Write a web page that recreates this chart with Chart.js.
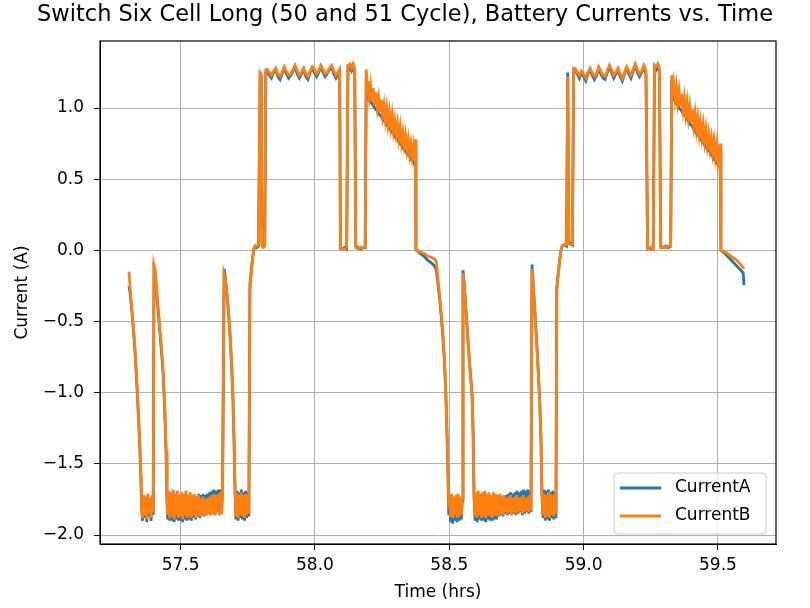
<!DOCTYPE html>
<html>
<head>
<meta charset="utf-8">
<script src="https://cdn.jsdelivr.net/npm/chart.js@4.4.0/dist/chart.umd.min.js"></script>
<style>
  html, body { margin: 0; padding: 0; background: #fff; }
  #wrap { width: 810px; height: 608px; }
</style>
</head>
<body>
<div id="wrap"><canvas id="grafik"></canvas></div>
<script>
// time (hrs), one row per piece of the trace
const hours = [
  57.308, 57.312, 57.316, 57.320, 57.324, 57.328, 57.332, 57.336, 57.340, 57.344, 57.348, 57.352, 57.355,
  57.358, 57.362, 57.366, 57.370, 57.374, 57.378, 57.382, 57.386, 57.390, 57.394, 57.398,
  57.401, 57.405, 57.412, 57.420, 57.428, 57.435, 57.441, 57.446, 57.449,
  57.452, 57.456, 57.460, 57.464, 57.468, 57.472, 57.476, 57.480, 57.484, 57.488,
  57.492, 57.496, 57.500, 57.504, 57.508, 57.512, 57.516, 57.520, 57.524, 57.528,
  57.532, 57.536, 57.540, 57.544, 57.548, 57.552, 57.556, 57.560, 57.564, 57.568,
  57.572, 57.576, 57.580, 57.584, 57.588, 57.592, 57.596, 57.600, 57.604, 57.608,
  57.612, 57.616, 57.620, 57.624, 57.628, 57.632, 57.636, 57.640, 57.644, 57.648,
  57.652, 57.656,
  57.662, 57.666, 57.672, 57.678, 57.684, 57.690, 57.695, 57.699, 57.703,
  57.706, 57.710, 57.714, 57.718, 57.722, 57.726, 57.730, 57.734, 57.738, 57.742, 57.746, 57.750, 57.754,
  57.758, 57.763, 57.768, 57.773, 57.778, 57.784, 57.790, 57.796, 57.800, 57.803, 57.808, 57.813, 57.817,
  57.822, 57.830, 57.838, 57.846, 57.854, 57.862, 57.870, 57.878, 57.886, 57.894,
  57.902, 57.910, 57.918, 57.926, 57.934, 57.942, 57.950, 57.958, 57.966, 57.974,
  57.982, 57.990, 57.998, 58.006, 58.014, 58.022, 58.030, 58.038, 58.046, 58.054,
  58.062, 58.070, 58.078, 58.086, 58.092,
  58.095, 58.102, 58.110, 58.118, 58.123, 58.130, 58.136, 58.142, 58.148, 58.152, 58.160, 58.170, 58.180, 58.187, 58.191, 58.194,
  58.197, 58.202, 58.207, 58.212, 58.217, 58.222, 58.227, 58.232, 58.237, 58.242,
  58.247, 58.252, 58.257, 58.262, 58.267, 58.272, 58.277, 58.282, 58.287, 58.292,
  58.297, 58.302, 58.307, 58.312, 58.317, 58.322, 58.327, 58.332, 58.337, 58.342,
  58.347, 58.352, 58.357, 58.362, 58.367, 58.371,
  58.373, 58.376, 58.390, 58.405, 58.420, 58.435, 58.445, 58.452, 58.458, 58.464, 58.470, 58.476, 58.482, 58.487, 58.491, 58.495, 58.498,
  58.501, 58.505, 58.509, 58.513, 58.517, 58.521, 58.525, 58.529, 58.533, 58.537, 58.541, 58.545, 58.548,
  58.551, 58.555, 58.560, 58.565, 58.570, 58.575, 58.580, 58.585, 58.589, 58.592,
  58.596, 58.600, 58.604, 58.608, 58.612, 58.616, 58.620, 58.624, 58.628, 58.632,
  58.636, 58.640, 58.644, 58.648, 58.652, 58.656, 58.660, 58.664, 58.668, 58.672,
  58.676, 58.680, 58.684, 58.688, 58.692, 58.696, 58.700, 58.704, 58.708, 58.712,
  58.716, 58.720, 58.724, 58.728, 58.732, 58.736, 58.740, 58.744, 58.748, 58.752,
  58.756, 58.760, 58.764, 58.768, 58.772, 58.776, 58.780, 58.784, 58.788, 58.792,
  58.796, 58.800, 58.804,
  58.808, 58.812, 58.817, 58.822, 58.827, 58.832, 58.837, 58.841, 58.845,
  58.849, 58.853, 58.857, 58.861, 58.865, 58.869, 58.873, 58.877, 58.881, 58.885, 58.889, 58.893, 58.897,
  58.900, 58.905, 58.910, 58.915, 58.920, 58.928, 58.936, 58.941, 58.945, 58.952, 58.958, 58.963,
  58.968, 58.976, 58.984, 58.992, 59.000, 59.008, 59.016, 59.024, 59.032, 59.040,
  59.048, 59.056, 59.064, 59.072, 59.080, 59.088, 59.096, 59.104, 59.112, 59.120,
  59.128, 59.136, 59.144, 59.152, 59.160, 59.168, 59.176, 59.184, 59.192, 59.200,
  59.208, 59.216, 59.224, 59.232,
  59.238, 59.245, 59.252, 59.259, 59.264, 59.270, 59.276, 59.282, 59.287, 59.295, 59.305, 59.315, 59.324, 59.328, 59.332,
  59.335, 59.340, 59.345, 59.350, 59.355, 59.360, 59.365, 59.370, 59.375, 59.380,
  59.385, 59.390, 59.395, 59.400, 59.405, 59.410, 59.415, 59.420, 59.425, 59.430,
  59.435, 59.440, 59.445, 59.450, 59.455, 59.460, 59.465, 59.470, 59.475, 59.480,
  59.485, 59.490, 59.495, 59.500, 59.505,
  59.508, 59.511, 59.525, 59.540, 59.555, 59.570, 59.585, 59.594, 59.597
];

const currentA = [
  -0.25, -0.30, -0.38, -0.46, -0.55, -0.65, -0.77, -0.90, -1.05, -1.20, -1.38, -1.58, -1.80,
  -1.90, -1.74, -1.88, -1.75, -1.91, -1.73, -1.87, -1.76, -1.90, -1.74, -1.86,
  -0.13, -0.15, -0.33, -0.51, -0.69, -0.87, -1.13, -1.43, -1.75,
  -1.89, -1.71, -1.90, -1.72, -1.90, -1.70, -1.91, -1.73, -1.89, -1.71,
  -1.90, -1.74, -1.90, -1.72, -1.91, -1.73, -1.89, -1.71, -1.90, -1.74,
  -1.89, -1.72, -1.90, -1.73, -1.88, -1.72, -1.89, -1.73, -1.87, -1.71,
  -1.88, -1.72, -1.86, -1.71, -1.87, -1.72, -1.86, -1.71, -1.85, -1.70,
  -1.86, -1.69, -1.85, -1.68, -1.86, -1.69, -1.84, -1.68, -1.86, -1.68,
  -1.85, -1.69,
  -0.13, -0.18, -0.30, -0.43, -0.60, -0.82, -1.05, -1.35, -1.72,
  -1.89, -1.69, -1.90, -1.70, -1.88, -1.68, -1.89, -1.70, -1.90, -1.69, -1.88, -1.70, -1.87,
  -0.24, -0.14, -0.05, 0.01, 0.03, 0.02, 0.03, 1.23, 1.22, 0.04, 0.03, 0.04, 1.25,
  1.26, 1.23, 1.21, 1.25, 1.27, 1.22, 1.20, 1.24, 1.28, 1.24,
  1.21, 1.23, 1.26, 1.29, 1.24, 1.21, 1.24, 1.27, 1.22, 1.20,
  1.25, 1.28, 1.25, 1.22, 1.25, 1.29, 1.25, 1.22, 1.24, 1.27,
  1.29, 1.24, 1.21, 1.24, 1.26,
  0.02, 0.01, 0.02, 0.01, 1.29, 1.28, 1.26, 1.29, 1.26, 0.03, 0.02, 0.01, 0.02, 0.02, 1.23, 1.08,
  1.07, 1.06, 1.05, 1.03, 1.02, 1.00, 0.99, 0.98, 0.96, 0.95,
  0.94, 0.92, 0.91, 0.90, 0.88, 0.87, 0.86, 0.84, 0.83, 0.82,
  0.80, 0.79, 0.78, 0.76, 0.75, 0.74, 0.72, 0.71, 0.70, 0.68,
  0.67, 0.66, 0.64, 0.63, 0.62, 0.60,
  0.74, 0.01, -0.02, -0.04, -0.07, -0.09, -0.11, -0.14, -0.24, -0.34, -0.46, -0.60, -0.78, -1.00, -1.25, -1.55, -1.86,
  -1.74, -1.91, -1.73, -1.92, -1.75, -1.90, -1.74, -1.91, -1.73, -1.90, -1.75, -1.89, -1.76,
  -0.14, -0.22, -0.36, -0.50, -0.64, -0.78, -0.90, -1.02, -1.30, -1.72,
  -1.90, -1.72, -1.91, -1.71, -1.89, -1.73, -1.90, -1.72, -1.90, -1.71,
  -1.91, -1.73, -1.89, -1.72, -1.90, -1.74, -1.90, -1.72, -1.89, -1.73,
  -1.89, -1.73, -1.87, -1.72, -1.86, -1.73, -1.87, -1.72, -1.85, -1.72,
  -1.86, -1.71, -1.85, -1.70, -1.86, -1.71, -1.85, -1.70, -1.86, -1.69,
  -1.85, -1.70, -1.84, -1.69, -1.86, -1.68, -1.85, -1.69, -1.84, -1.68,
  -1.85, -1.69, -1.84,
  -0.10, -0.22, -0.38, -0.54, -0.70, -0.88, -1.08, -1.30, -1.72,
  -1.88, -1.68, -1.90, -1.69, -1.89, -1.68, -1.90, -1.70, -1.88, -1.69, -1.89, -1.70, -1.88,
  -0.26, -0.17, -0.08, -0.01, 0.03, 0.04, 0.03, 1.25, 0.05, 0.05, 0.04, 1.27,
  1.27, 1.24, 1.21, 1.25, 1.22, 1.19, 1.24, 1.27, 1.23, 1.20,
  1.23, 1.28, 1.24, 1.21, 1.20, 1.25, 1.29, 1.25, 1.21, 1.24,
  1.27, 1.22, 1.19, 1.24, 1.28, 1.24, 1.21, 1.26, 1.30, 1.25,
  1.22, 1.25, 1.29, 1.24,
  0.02, 0.02, 0.01, 0.02, 1.29, 1.27, 1.30, 1.26, 0.03, 0.02, 0.03, 0.02, 0.03, 1.20, 1.06,
  1.06, 1.05, 1.03, 1.02, 1.00, 0.99, 0.98, 0.96, 0.95, 0.94,
  0.92, 0.91, 0.89, 0.88, 0.87, 0.85, 0.84, 0.82, 0.81, 0.80,
  0.78, 0.77, 0.76, 0.74, 0.73, 0.71, 0.70, 0.69, 0.67, 0.66,
  0.64, 0.63, 0.62, 0.60, 0.59,
  0.72, 0.00, -0.02, -0.05, -0.08, -0.11, -0.14, -0.16, -0.245
];

const currentB = [
  -0.15, -0.26, -0.35, -0.44, -0.53, -0.63, -0.75, -0.88, -1.03, -1.19, -1.37, -1.57, -1.78,
  -1.88, -1.72, -1.86, -1.73, -1.89, -1.71, -1.85, -1.74, -1.88, -1.72, -1.84,
  -0.10, -0.13, -0.30, -0.48, -0.66, -0.84, -1.10, -1.40, -1.72,
  -1.86, -1.69, -1.88, -1.70, -1.87, -1.68, -1.89, -1.71, -1.86, -1.69,
  -1.88, -1.72, -1.87, -1.70, -1.89, -1.71, -1.86, -1.69, -1.88, -1.72,
  -1.87, -1.70, -1.88, -1.72, -1.86, -1.71, -1.88, -1.73, -1.86, -1.72,
  -1.87, -1.74, -1.85, -1.73, -1.87, -1.75, -1.86, -1.74, -1.85, -1.73,
  -1.86, -1.72, -1.85, -1.71, -1.86, -1.72, -1.84, -1.71, -1.86, -1.70,
  -1.85, -1.72,
  -0.17, -0.20, -0.29, -0.42, -0.59, -0.80, -1.03, -1.33, -1.70,
  -1.87, -1.71, -1.88, -1.72, -1.86, -1.70, -1.87, -1.72, -1.88, -1.71, -1.86, -1.72, -1.85,
  -0.27, -0.16, -0.06, 0.02, 0.03, 0.03, 0.04, 1.25, 1.24, 0.03, 0.02, 0.03, 1.27,
  1.27, 1.25, 1.23, 1.26, 1.28, 1.24, 1.22, 1.25, 1.29, 1.26,
  1.23, 1.24, 1.27, 1.30, 1.26, 1.23, 1.25, 1.28, 1.24, 1.22,
  1.26, 1.29, 1.27, 1.24, 1.26, 1.30, 1.27, 1.24, 1.25, 1.28,
  1.30, 1.26, 1.23, 1.25, 1.27,
  0.01, 0.01, 0.01, 0.02, 1.30, 1.31, 1.28, 1.31, 1.28, 0.02, 0.01, 0.02, 0.02, 0.03, 1.27, 1.17,
  1.19, 1.08, 1.16, 1.05, 1.14, 1.02, 1.11, 1.00, 1.07, 0.97,
  1.06, 0.95, 1.02, 0.92, 1.00, 0.89, 0.97, 0.87, 0.95, 0.84,
  0.91, 0.82, 0.89, 0.79, 0.87, 0.76, 0.83, 0.74, 0.81, 0.71,
  0.78, 0.68, 0.75, 0.66, 0.73, 0.63,
  0.78, 0.00, -0.01, -0.02, -0.04, -0.05, -0.06, -0.08, -0.20, -0.32, -0.44, -0.58, -0.76, -0.98, -1.24, -1.53, -1.80,
  -1.72, -1.87, -1.71, -1.88, -1.73, -1.86, -1.72, -1.88, -1.71, -1.87, -1.73, -1.86, -1.74,
  -0.16, -0.23, -0.37, -0.51, -0.65, -0.79, -0.91, -1.03, -1.31, -1.70,
  -1.87, -1.70, -1.88, -1.69, -1.86, -1.71, -1.88, -1.70, -1.87, -1.69,
  -1.88, -1.71, -1.86, -1.70, -1.87, -1.72, -1.88, -1.70, -1.86, -1.71,
  -1.87, -1.72, -1.86, -1.71, -1.85, -1.73, -1.86, -1.72, -1.84, -1.74,
  -1.85, -1.73, -1.84, -1.72, -1.86, -1.74, -1.84, -1.73, -1.85, -1.72,
  -1.84, -1.74, -1.83, -1.73, -1.85, -1.72, -1.84, -1.74, -1.83, -1.73,
  -1.84, -1.72, -1.83,
  -0.13, -0.23, -0.39, -0.55, -0.71, -0.89, -1.09, -1.31, -1.70,
  -1.86, -1.71, -1.88, -1.72, -1.87, -1.70, -1.88, -1.71, -1.86, -1.72, -1.87, -1.71, -1.85,
  -0.28, -0.18, -0.09, -0.01, 0.03, 0.04, 0.04, 1.22, 0.05, 0.04, 0.05, 1.28,
  1.28, 1.25, 1.23, 1.26, 1.24, 1.21, 1.25, 1.28, 1.25, 1.22,
  1.24, 1.29, 1.26, 1.23, 1.22, 1.26, 1.30, 1.27, 1.23, 1.25,
  1.28, 1.24, 1.21, 1.25, 1.29, 1.26, 1.23, 1.27, 1.31, 1.27,
  1.24, 1.26, 1.30, 1.26,
  0.01, 0.02, 0.02, 0.01, 1.30, 1.29, 1.31, 1.28, 0.02, 0.02, 0.02, 0.03, 0.03, 1.23, 1.14,
  1.18, 1.07, 1.15, 1.04, 1.12, 1.01, 1.10, 0.99, 1.07, 0.96,
  1.04, 0.93, 1.01, 0.90, 0.99, 0.88, 0.96, 0.85, 0.93, 0.82,
  0.90, 0.80, 0.88, 0.77, 0.85, 0.74, 0.82, 0.72, 0.79, 0.69,
  0.77, 0.66, 0.74, 0.63, 0.71,
  0.75, 0.00, -0.01, -0.03, -0.05, -0.07, -0.10, -0.12, -0.13
];

const xTicks = [57.5, 58.0, 58.5, 59.0, 59.5];
const yTicks = [-2.0, -1.5, -1.0, -0.5, 0.0, 0.5, 1.0];
const seriesNames = ['CurrentA', 'CurrentB'];
const seriesColors = ['#1f77b4', '#ff7f0e'];

if (hours.length !== currentA.length || hours.length !== currentB.length) {
  throw new Error('length mismatch: ' + hours.length + ' ' + currentA.length + ' ' + currentB.length);
}

const fontFamily = 'DejaVu Sans';

// frame around the axes + legend box in the lower right corner
const cerceve = {
  id: 'cerceve',
  afterDraw(chart) {
    const { ctx, chartArea: a } = chart;
    ctx.save();
    ctx.strokeStyle = '#000';
    ctx.lineWidth = 1.2;
    ctx.strokeRect(a.left, a.top, a.right - a.left, a.bottom - a.top);

    const w = 152, h = 61;
    const x0 = a.right - 10 - w;
    const y0 = a.bottom - 10 - h;
    ctx.beginPath();
    ctx.roundRect(x0, y0, w, h, 4);
    ctx.fillStyle = 'rgba(255,255,255,0.8)';
    ctx.fill();
    ctx.strokeStyle = '#cccccc';
    ctx.lineWidth = 1;
    ctx.stroke();

    ctx.font = '17px "' + fontFamily + '"';
    ctx.textBaseline = 'middle';
    ctx.textAlign = 'left';
    seriesNames.forEach((name, i) => {
      const yy = y0 + 15 + i * 28;
      ctx.beginPath();
      ctx.moveTo(x0 + 6, yy);
      ctx.lineTo(x0 + 47, yy);
      ctx.strokeStyle = seriesColors[i];
      ctx.lineWidth = 2.8;
      ctx.stroke();
      ctx.fillStyle = '#000';
      ctx.fillText(name, x0 + 61, yy);
    });
    ctx.restore();
  }
};

const grf = document.getElementById('grafik').getContext('2d');

const veri = {
  datasets: [
    {
      label: seriesNames[0],
      data: hours.map((t, i) => ({ x: t, y: currentA[i] })),
      borderColor: seriesColors[0],
      backgroundColor: seriesColors[0],
      borderWidth: 2.8,
      pointRadius: 0,
      tension: 0,
      order: 1
    },
    {
      label: seriesNames[1],
      data: hours.map((t, i) => ({ x: t, y: currentB[i] })),
      borderColor: seriesColors[1],
      backgroundColor: seriesColors[1],
      borderWidth: 2.8,
      pointRadius: 0,
      tension: 0,
      order: 0
    }
  ]
};

const con = {
  type: 'line',
  data: veri,
  options: {
    responsive: true,
    maintainAspectRatio: false,
    animation: false,
    layout: { padding: 0 },
    plugins: {
      legend: { display: false },
      tooltip: { enabled: false },
      title: {
        display: true,
        text: 'Switch Six Cell Long (50 and 51 Cycle), Battery Currents vs. Time',
        color: '#000',
        font: { family: fontFamily, size: 22.5, weight: 'normal' },
        padding: { top: 2, bottom: 12 }
      }
    },
    scales: {
      x: {
        type: 'linear',
        min: 57.2,
        max: 59.716,
        afterBuildTicks: (axis) => { axis.ticks = xTicks.map(v => ({ value: v })); },
        afterFit: (scale) => { scale.height = 64; },
        ticks: {
          autoSkip: false,
          maxRotation: 0,
          padding: 5,
          color: '#000',
          font: { family: fontFamily, size: 17 },
          callback: (v) => Number(v).toFixed(1)
        },
        grid: { color: '#b0b0b0', lineWidth: 1, tickLength: 6, tickColor: '#000', tickWidth: 1 },
        border: { display: true, color: '#000', width: 1 },
        title: {
          display: true,
          text: 'Time (hrs)',
          color: '#000',
          font: { family: fontFamily, size: 17 },
          padding: { top: 0, bottom: 5 }
        }
      },
      y: {
        type: 'linear',
        min: -2.063,
        max: 1.471,
        afterBuildTicks: (axis) => { axis.ticks = yTicks.map(v => ({ value: v })); },
        afterFit: (scale) => { scale.width = 100; },
        ticks: {
          autoSkip: false,
          padding: 10,
          color: '#000',
          font: { family: fontFamily, size: 17 },
          callback: (v) => Number(v).toFixed(1).replace('-', '\u2212')
        },
        grid: { color: '#b0b0b0', lineWidth: 1, tickLength: 6, tickColor: '#000', tickWidth: 1 },
        border: { display: true, color: '#000', width: 1 },
        title: {
          display: true,
          text: 'Current (A)',
          color: '#000',
          font: { family: fontFamily, size: 17 },
          padding: { top: 12, bottom: 0 }
        }
      },
      // empty right-hand margin so the title stays centred on the page
      sag: {
        type: 'linear',
        position: 'right',
        min: 0,
        max: 1,
        afterFit: (scale) => { scale.width = 34; },
        ticks: { display: false },
        grid: { display: false, drawTicks: false },
        border: { display: false }
      }
    }
  },
  plugins: [cerceve]
};

new Chart(grf, con);
</script>
</body>
</html>
